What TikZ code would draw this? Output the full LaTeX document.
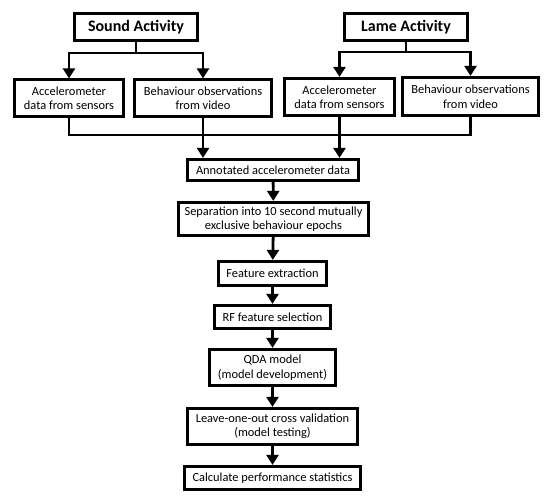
\documentclass[tikz,border=0pt]{standalone}
\usepackage{fontspec}
\setmainfont{Carlito}
\usetikzlibrary{arrows.meta}
\begin{document}
\begin{tikzpicture}[x=1pt,y=-1pt,
  box/.style={draw, line width=2.8pt, inner sep=0pt, align=center,
    font=\fontsize{12.4}{14.5}\selectfont},
  titlebox/.style={box, font=\fontsize{16}{18}\selectfont\bfseries},
  conn/.style={line width=2.8pt},
  arr/.style={conn, -{Triangle[width=12pt,length=10pt]}}]
\useasboundingbox (0,0) rectangle (550,498);
\node[titlebox, minimum width=123.4pt, minimum height=26.4pt] (sound) at (136,27) {Sound Activity};
\node[titlebox, minimum width=123.4pt, minimum height=27.4pt] (lame) at (406,27) {Lame Activity};
\node[box, minimum width=109.4pt, minimum height=36.4pt] (accL) at (69,98) {Accelerometer\\data from sensors};
\node[box, minimum width=137.4pt, minimum height=36.4pt] (behL) at (203,98) {Behaviour observations\\from video};
\node[box, minimum width=110.4pt, minimum height=37.4pt] (accR) at (339.5,97) {Accelerometer\\data from sensors};
\node[box, minimum width=136.4pt, minimum height=38.4pt] (behR) at (470.5,96.5) {Behaviour observations\\from video};
\node[box, minimum width=171.4pt, minimum height=21.4pt] (annot) at (273,170) {Annotated accelerometer data};
\node[box, minimum width=190.4pt, minimum height=33.4pt] (sep) at (273.5,219) {Separation into 10 second mutually\\exclusive behaviour epochs};
\node[box, minimum width=107.4pt, minimum height=24.4pt] (feat) at (272.5,273.5) {Feature extraction};
\node[box, minimum width=116.4pt, minimum height=23.4pt] (rf) at (272.5,317) {RF feature selection};
\node[box, minimum width=126.4pt, minimum height=36.4pt] (qda) at (272.5,367.5) {QDA model\\(model development)};
\node[box, minimum width=170.4pt, minimum height=36.4pt] (loo) at (272.5,426.5) {Leave-one-out cross validation\\(model testing)};
\node[box, minimum width=176.4pt, minimum height=23.4pt] (calc) at (272.5,478) {Calculate performance statistics};
\coordinate (splitS) at (0,53);
\coordinate (splitL) at (0,52);
\coordinate (bus) at (0,135);
% Sound split
\draw[conn] (sound.south) -- (sound.south |- splitS);
\draw[arr] (accL.north |- splitS) -- (behL.north |- splitS) -- (behL.north);
\draw[arr] (behL.north |- splitS) -- (accL.north |- splitS) -- (accL.north);
% Lame split
\draw[conn] (lame.south) -- (lame.south |- splitL);
\draw[arr] (accR.north |- splitL) -- (behR.north |- splitL) -- (behR.north);
\draw[arr] (behR.north |- splitL) -- (accR.north |- splitL) -- (accR.north);
% collector bus
\draw[conn] (accL.south) |- (behR.south |- bus) -- (behR.south);
\draw[arr] (behL.south) -- (behL.south |- annot.north);
\draw[arr] (accR.south) -- (accR.south |- annot.north);
% chain
\draw[arr] (annot) -- (sep);
\draw[arr] (sep) -- (feat);
\draw[arr] (feat) -- (rf);
\draw[arr] (rf) -- (qda);
\draw[arr] (qda) -- (loo);
\draw[arr] (loo) -- (calc);
\end{tikzpicture}
\end{document}
